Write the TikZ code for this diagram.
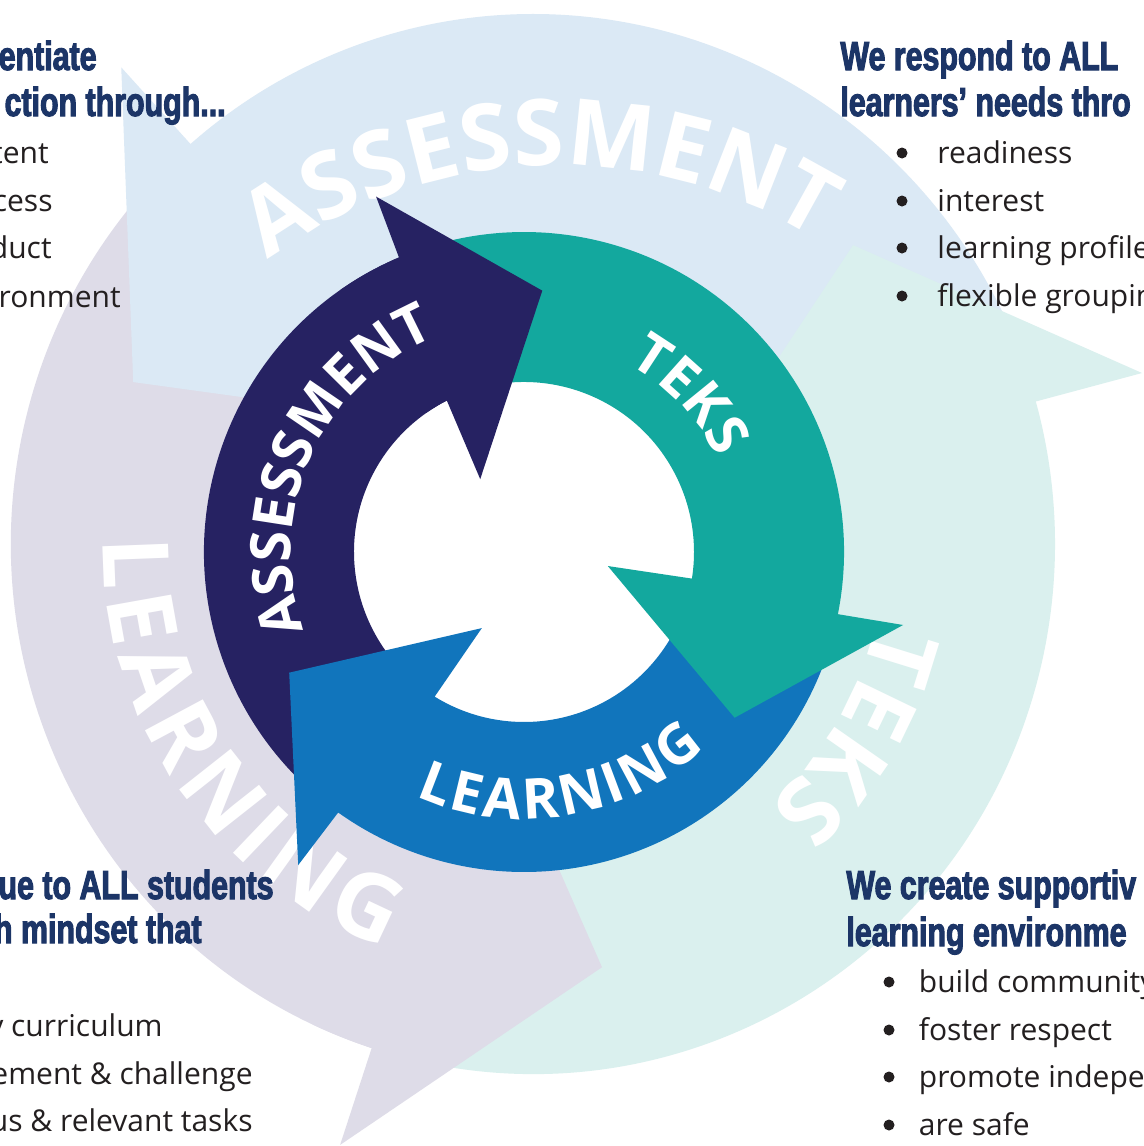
\documentclass[tikz,border=0pt]{standalone}
\usepackage{fontspec}
\setmainfont{Open Sans}
\newfontfamily\headfont[FakeStretch=0.75,BoldFeatures={FakeBold=2.5}]{Liberation Sans}
\newfontfamily\arcfont{Open Sans}
\usetikzlibrary{decorations.text}

\definecolor{navyarrow}{RGB}{38,34,98}
\definecolor{tealarrow}{RGB}{19,168,158}
\definecolor{bluearrow}{RGB}{17,117,188}
\definecolor{assessbg}{RGB}{219,233,245}
\definecolor{teksbg}{RGB}{218,240,238}
\definecolor{learnbg}{RGB}{222,220,232}
\definecolor{headnavy}{RGB}{28,53,103}
\definecolor{inkdark}{RGB}{35,31,32}

\newcommand\bigword{\arcfont\bfseries\fontsize{46}{50}\selectfont\color{white}}
\newcommand\bigwordsp{\kern3.9pt\bigword}
\newcommand\ringword{\arcfont\bfseries\fontsize{28}{30}\selectfont\color{white}}
\newcommand\ringwordsp{\kern1.6pt\ringword}

\begin{document}
\begin{tikzpicture}[x=0.5pt,y=0.5pt,
  head/.style={font=\headfont\bfseries\fontsize{20.25}{23}\selectfont,text=headnavy,inner sep=0pt},
  item/.style={font=\fontsize{15}{18}\selectfont,text=inkdark,inner sep=0pt},
  bul/.style={circle,fill=inkdark,inner sep=0pt,minimum size=5.5pt}]
\path[use as bounding box,fill=white] (0,0) rectangle (1144,-1146);

%Outer cycle
\begin{scope}[shift={(533,-544)},xscale=0.985]
\fill[learnbg] (252:530) arc[start angle=252,end angle=135.4,radius=265pt] -- (135.4:300) arc[start angle=135.4,end angle=252,radius=150pt] -- cycle;
\fill[assessbg] (131:530) -- (131.25:634) -- (158.25:437) -- (144.2:225) -- (131:300) arc[start angle=131,end angle=20,radius=150pt] -- (20:530) arc[start angle=20,end angle=131,radius=265pt] -- cycle;
\fill[teksbg] (15.6:530) -- (15.46:641.5) -- (42.6:441.5) -- (28.8:225) -- (15.6:300) arc[start angle=15.6,end angle=-103.6,radius=150pt] -- (-103.6:530) arc[start angle=-103.6,end angle=15.6,radius=265pt] -- cycle;
\fill[learnbg] (252:530) -- (251.95:632) -- (279.4:429) -- (265.2:225) -- (252:300) arc[start angle=252,end angle=245,radius=150pt] -- (245:530) arc[start angle=245,end angle=252,radius=265pt] -- cycle;
\end{scope}
% Outer words
\begin{scope}[shift={(558,-653)}]
\path[decorate,decoration={text along path,text align=center,text={|\bigword|ASSESSMENT}}] (142.2:488) arc[start angle=142.2,end angle=42.2,radius=244pt];
\end{scope}
\begin{scope}[shift={(533,-544)}]
\path[decorate,decoration={text along path,text align=center,text={|\bigword|TEKS}}] (9.5:352) arc[start angle=9.5,end angle=-70.5,radius=176pt];
\path[decorate,decoration={text along path,text align=center,text={|\bigwordsp|LEARNING}}] (164:430) arc[start angle=164,end angle=264,radius=215pt];
\end{scope}

%Inner cycle
\begin{scope}[shift={(524,-552)}]
\fill[navyarrow] (113:320) arc[start angle=113,end angle=234.5,radius=160pt] -- (238.3:170) arc[start angle=238.3,end angle=117,radius=85pt] -- cycle;
\fill[bluearrow] (234.5:320) arc[start angle=234.5,end angle=348.8,radius=160pt] -- (351:170) arc[start angle=351,end angle=238.3,radius=85pt] -- (241:87) -- (207.2:264) -- (234.2:386) -- cycle;
\fill[tealarrow] (-11.2:320) arc[start angle=-11.2,end angle=113,radius=160pt] -- (117:170) arc[start angle=117,end angle=-9,radius=85pt] -- (-9.5:85) -- (-38.2:268) -- (-10.9:386) -- cycle;
\fill[navyarrow] (113:320) -- (112.6:385) -- (86:262) -- (121:85) -- (117:170) arc[start angle=117,end angle=125,radius=85pt] -- (125:320) arc[start angle=125,end angle=113,radius=160pt] -- cycle;
% Ring words
\path[decorate,decoration={text along path,text align=center,text={|\ringword|ASSESSMENT}}] (211:233) arc[start angle=211,end angle=101,radius=116.5pt];
\path[decorate,decoration={text along path,text align=center,text={|\ringword|TEKS}}] (78.5:215) arc[start angle=78.5,end angle=8.5,radius=107.5pt];
\path[decorate,decoration={text along path,text align=center,text={|\ringwordsp|LEARNING}}] (229:267) arc[start angle=229,end angle=329,radius=133.5pt];
\end{scope}

%Top left
\node[head,anchor=base east] (tlh1) at (97,-70) {entiate};
\node[head,anchor=base east] (tlh2) at (226,-116) {ction through...};
\node[item,anchor=base east] (tli1) at (49,-163) {tent};
\node[item,anchor=base east] (tli2) at (53,-211) {cess};
\node[item,anchor=base east] (tli3) at (52,-258) {duct};
\node[item,anchor=base east] (tli4) at (121,-307) {ronment};

%Top right
\node[head,anchor=base west] (trh1) at (840,-70) {We respond to ALL};
\node[head,anchor=base west] (trh2) at (840,-116) {learners’ needs thro};
\node[bul] (trb1) at (902,-153) {};
\node[bul] (trb2) at (902,-201) {};
\node[bul] (trb3) at (902,-248) {};
\node[bul] (trb4) at (902,-296) {};
\node[item,anchor=base west] (tri1) at (937,-163) {readiness};
\node[item,anchor=base west] (tri2) at (937,-211) {interest};
\node[item,anchor=base west] (tri3) at (937,-258) {learning profile};
\node[item,anchor=base west] (tri4) at (937,-306) {flexible groupin};

%Bottom left
\node[head,anchor=base east] (blh1) at (274,-899) {lue to ALL students};
\node[head,anchor=base east] (blh2) at (202,-943) {h mindset that};
\node[item,anchor=base east] (bli1) at (163,-1036) {y curriculum};
\node[item,anchor=base east] (bli2) at (253,-1084) {gement \& challenge};
\node[item,anchor=base east] (bli3) at (253,-1131) {ous \& relevant tasks};

%Bottom right
\node[head,anchor=base west] (brh1) at (846,-899) {We create supportiv};
\node[head,anchor=base west] (brh2) at (846,-946) {learning environme};
\node[bul] (brb1) at (889,-982) {};
\node[bul] (brb2) at (889,-1030) {};
\node[bul] (brb3) at (889,-1077) {};
\node[bul] (brb4) at (889,-1125) {};
\node[item,anchor=base west] (bri1) at (918.5,-992) {build community};
\node[item,anchor=base west] (bri2) at (918.5,-1040) {foster respect};
\node[item,anchor=base west] (bri3) at (918.5,-1087) {promote indepen};
\node[item,anchor=base west] (bri4) at (918.5,-1135) {are safe};
\end{tikzpicture}
\end{document}
